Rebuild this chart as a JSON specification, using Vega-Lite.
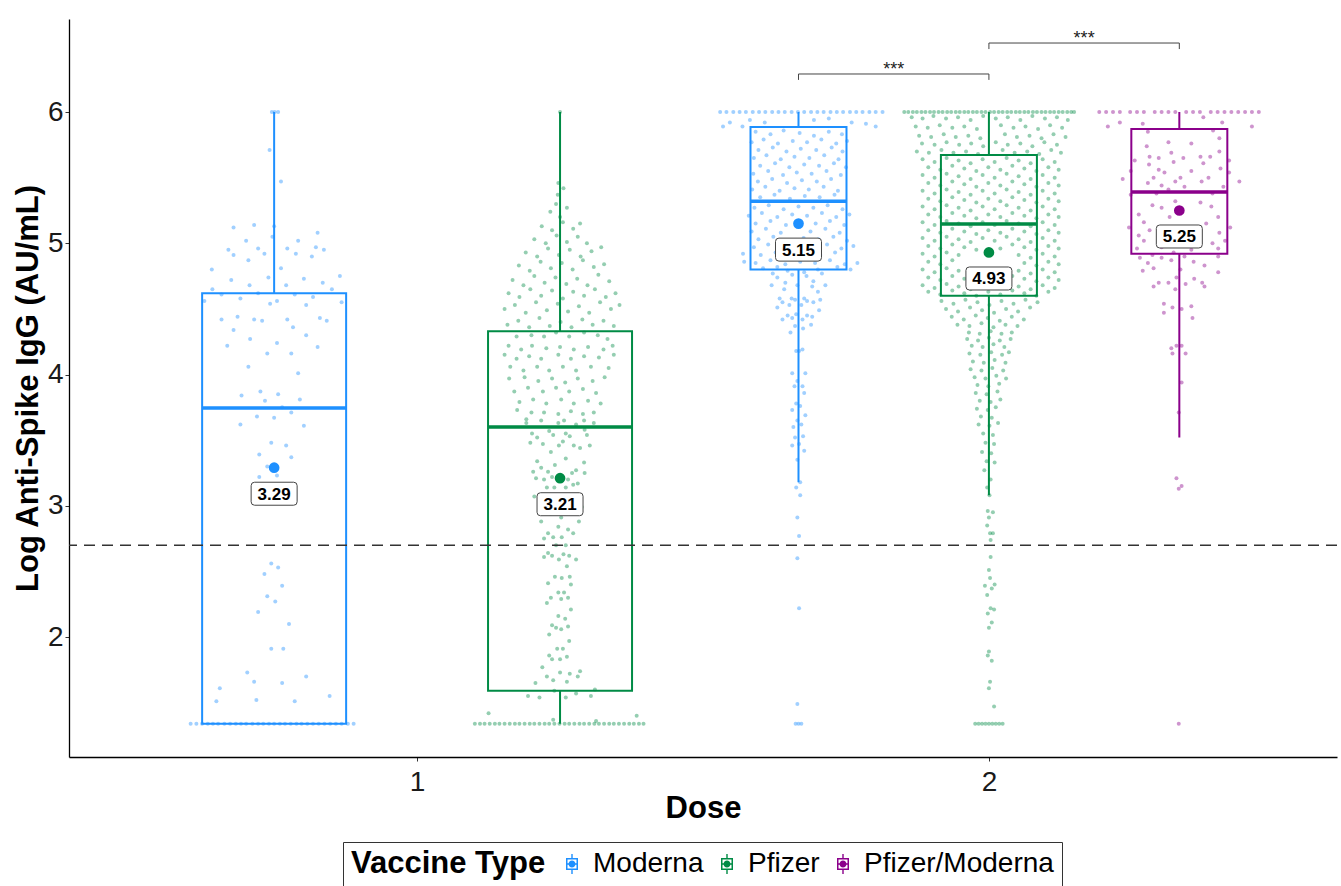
{
  "$schema": "https://vega.github.io/schema/vega-lite/v6.json",
  "width": 1268,
  "height": 738,
  "autosize": {"type": "none"},
  "padding": {"left": 69, "top": 19, "right": 4, "bottom": 129},
  "background": "white",
  "config": {
    "view": {"stroke": null},
    "font": "Liberation Sans",
    "axis": {"grid": false, "domainColor": "#000", "domainWidth": 1.3, "tickColor": "#333", "tickSize": 4, "tickWidth": 1, "labelFontSize": 28, "labelColor": "#1a1a1a", "labelFont": "Liberation Sans", "titleFont": "Liberation Sans", "titleFontSize": 31, "titleFontWeight": "bold", "titleColor": "#000"}
  },
  "datasets": {
    "box": [
      {"vaccine": "Moderna", "dose": 1, "x": 0.75, "lo": 1.34, "q1": 1.34, "med": 3.745, "q3": 4.62, "hi": 6.0, "mean": 3.29},
      {"vaccine": "Pfizer", "dose": 1, "x": 1.25, "lo": 1.34, "q1": 1.59, "med": 3.6, "q3": 4.33, "hi": 6.0, "mean": 3.21},
      {"vaccine": "Moderna", "dose": 2, "x": 1.667, "lo": 3.18, "q1": 4.8, "med": 5.32, "q3": 5.886, "hi": 6.0, "mean": 5.15},
      {"vaccine": "Pfizer", "dose": 2, "x": 2.0, "lo": 3.08, "q1": 4.6, "med": 5.147, "q3": 5.672, "hi": 6.0, "mean": 4.93},
      {"vaccine": "Pfizer/Moderna", "dose": 2, "x": 2.333, "lo": 3.52, "q1": 4.92, "med": 5.39, "q3": 5.87, "hi": 6.0, "mean": 5.25}
    ],
    "br": [
      {"a": 1.667, "b": 2.0, "top": 6.29, "tip": 6.245, "mid": 1.8335, "lab": "***"},
      {"a": 2.0, "b": 2.333, "top": 6.526, "tip": 6.48, "mid": 2.1665, "lab": "***"}
    ]
  },
  "layer": [
    {
      "data": {"name": "box"},
      "mark": {"type": "rule", "strokeWidth": 2},
      "encoding": {
        "x": {"field": "x", "type": "quantitative", "scale": {"domain": [0.4, 2.6], "nice": false, "zero": false}, "axis": {"title": "Dose", "values": [1, 2], "format": "d", "labelPadding": 7, "titleY": 51, "titleBaseline": "middle"}},
        "y": {"field": "lo", "type": "quantitative", "scale": {"domain": [1.086, 6.709], "nice": false, "zero": false}, "axis": {"title": "Log Anti-Spike IgG (AU/mL)", "values": [2, 3, 4, 5, 6], "format": "d", "labelPadding": 2, "titleX": -41, "titleBaseline": "middle"}},
        "y2": {"field": "hi"},
        "color": {
          "field": "vaccine", "type": "nominal",
          "scale": {"domain": ["Moderna", "Pfizer", "Pfizer/Moderna"], "range": ["#1E90FF", "#008B45", "#8B008B"]},
          "legend": {
            "title": "Vaccine Type", "orient": "none", "legendX": 274, "legendY": 823, "direction": "horizontal",
            "titleOrient": "left", "titleFontSize": 31, "titleFontWeight": "bold", "titleColor": "#000", "titlePadding": 12, "titleLimit": 500,
            "labelFontSize": 28, "labelColor": "#000", "labelOffset": 7, "columnPadding": 9, "labelLimit": 400,
            "symbolSize": 400, "symbolStrokeWidth": 0, "symbolOpacity": 1,
            "symbolType": "M-0.6,-0.6H0.6V0.6H-0.6Z M-0.45,-0.45V0.45H0.45V-0.45Z M-0.07,-1H0.07V-0.6H-0.07Z M-0.07,0.6H0.07V1H-0.07Z M-0.45,-0.07H0.45V0.07H-0.45Z M-0.35,0A0.35,0.35 0 1,1 0.35,0A0.35,0.35 0 1,1 -0.35,0Z",
            "padding": 8, "strokeColor": "#333",
            "encode": {"symbols": {"update": {"opacity": {"value": 1}, "fillOpacity": {"value": 1}}}}
          }
        }
      }
    },
    {
      "data": {"name": "box"},
      "mark": {"type": "bar", "fill": "white", "strokeWidth": 2},
      "encoding": {
        "x": {"field": "x", "type": "quantitative"},
        "y": {"field": "q1", "type": "quantitative"},
        "y2": {"field": "q3"},
        "stroke": {"field": "vaccine", "type": "nominal", "scale": {"domain": ["Moderna", "Pfizer", "Pfizer/Moderna"], "range": ["#1E90FF", "#008B45", "#8B008B"]}, "legend": null},
        "size": {"field": "dose", "type": "quantitative", "scale": {"domain": [1, 2], "range": [144, 96], "zero": false}, "legend": null}
      }
    },
    {
      "data": {"name": "box"},
      "mark": {"type": "bar", "fill": "transparent", "strokeWidth": 3.5},
      "encoding": {
        "x": {"field": "x", "type": "quantitative"},
        "y": {"field": "med", "type": "quantitative"},
        "y2": {"field": "med"},
        "stroke": {"field": "vaccine", "type": "nominal", "legend": null},
        "size": {"field": "dose", "type": "quantitative", "legend": null}
      }
    },
    {
      "data": {
        "values": "v,x,y\nModerna,0.604,1.34\nModerna,0.614,1.34\nModerna,0.624,1.34\nModerna,0.634,1.34\nModerna,0.643,1.34\nModerna,0.652,1.34\nModerna,0.663,1.34\nModerna,0.673,1.34\nModerna,0.683,1.34\nModerna,0.692,1.34\nModerna,0.701,1.34\nModerna,0.712,1.34\nModerna,0.722,1.34\nModerna,0.731,1.34\nModerna,0.741,1.34\nModerna,0.75,1.34\nModerna,0.76,1.34\nModerna,0.769,1.34\nModerna,0.779,1.34\nModerna,0.789,1.34\nModerna,0.798,1.34\nModerna,0.808,1.34\nModerna,0.818,1.34\nModerna,0.828,1.34\nModerna,0.838,1.34\nModerna,0.848,1.34\nModerna,0.858,1.34\nModerna,0.868,1.34\nModerna,0.879,1.34\nModerna,0.889,1.34\nModerna,0.746,6.0\nModerna,0.751,6.0\nModerna,0.757,6.0\nModerna,0.742,5.71\nModerna,0.762,5.47\nModerna,0.679,5.12\nModerna,0.715,5.14\nModerna,0.750,5.13\nModerna,0.826,5.08\nModerna,0.701,5.02\nModerna,0.747,5.05\nModerna,0.792,5.02\nModerna,0.670,4.95\nModerna,0.679,4.91\nModerna,0.722,4.96\nModerna,0.733,4.92\nModerna,0.773,4.96\nModerna,0.788,4.92\nModerna,0.823,4.97\nModerna,0.837,4.95\nModerna,0.816,4.90\nModerna,0.705,4.87\nModerna,0.762,4.81\nModerna,0.641,4.80\nModerna,0.865,4.75\nModerna,0.675,4.72\nModerna,0.740,4.74\nModerna,0.802,4.73\nModerna,0.835,4.70\nModerna,0.707,4.68\nModerna,0.771,4.68\nModerna,0.642,4.65\nModerna,0.851,4.65\nModerna,0.658,4.61\nModerna,0.722,4.62\nModerna,0.786,4.61\nModerna,0.818,4.59\nModerna,0.628,4.56\nModerna,0.691,4.58\nModerna,0.743,4.54\nModerna,0.755,4.56\nModerna,0.806,4.53\nModerna,0.868,4.55\nModerna,0.658,4.42\nModerna,0.686,4.44\nModerna,0.715,4.42\nModerna,0.729,4.41\nModerna,0.773,4.42\nModerna,0.830,4.43\nModerna,0.842,4.41\nModerna,0.679,4.34\nModerna,0.783,4.36\nModerna,0.806,4.30\nModerna,0.708,4.27\nModerna,0.755,4.24\nModerna,0.668,4.22\nModerna,0.826,4.21\nModerna,0.738,4.16\nModerna,0.780,4.16\nModerna,0.705,4.06\nModerna,0.792,4.01\nModerna,0.693,3.84\nModerna,0.726,3.87\nModerna,0.757,3.85\nModerna,0.734,3.80\nModerna,0.795,3.81\nModerna,0.764,3.75\nModerna,0.720,3.68\nModerna,0.750,3.67\nModerna,0.780,3.71\nModerna,0.691,3.62\nModerna,0.802,3.61\nModerna,0.745,3.48\nModerna,0.771,3.46\nModerna,0.724,3.39\nModerna,0.780,3.37\nModerna,0.738,3.30\nModerna,0.724,3.22\nModerna,0.755,3.23\nModerna,0.745,2.56\nModerna,0.757,2.53\nModerna,0.733,2.48\nModerna,0.764,2.39\nModerna,0.738,2.31\nModerna,0.752,2.27\nModerna,0.722,2.19\nModerna,0.776,2.10\nModerna,0.745,1.91\nModerna,0.766,1.91\nModerna,0.703,1.73\nModerna,0.715,1.66\nModerna,0.764,1.65\nModerna,0.806,1.70\nModerna,0.655,1.61\nModerna,0.649,1.51\nModerna,0.719,1.52\nModerna,0.786,1.51\nModerna,0.847,1.55\nPfizer,1.101,1.34\nPfizer,1.11,1.34\nPfizer,1.118,1.34\nPfizer,1.127,1.34\nPfizer,1.136,1.34\nPfizer,1.144,1.34\nPfizer,1.153,1.34\nPfizer,1.162,1.34\nPfizer,1.171,1.34\nPfizer,1.179,1.34\nPfizer,1.188,1.34\nPfizer,1.197,1.34\nPfizer,1.205,1.34\nPfizer,1.214,1.34\nPfizer,1.223,1.34\nPfizer,1.231,1.34\nPfizer,1.24,1.34\nPfizer,1.249,1.34\nPfizer,1.258,1.34\nPfizer,1.266,1.34\nPfizer,1.275,1.34\nPfizer,1.284,1.34\nPfizer,1.292,1.34\nPfizer,1.301,1.34\nPfizer,1.31,1.34\nPfizer,1.318,1.34\nPfizer,1.327,1.34\nPfizer,1.336,1.34\nPfizer,1.344,1.34\nPfizer,1.353,1.34\nPfizer,1.362,1.34\nPfizer,1.371,1.34\nPfizer,1.379,1.34\nPfizer,1.388,1.34\nPfizer,1.396,1.34\nPfizer,1.125,1.42\nPfizer,1.384,1.40\nPfizer,1.238,1.37\nPfizer,1.313,1.36\nPfizer,1.194,1.55\nPfizer,1.214,1.54\nPfizer,1.26,1.54\nPfizer,1.278,1.57\nPfizer,1.304,1.55\nPfizer,1.311,1.60\nPfizer,1.24,1.59\nPfizer,1.219,1.77\nPfizer,1.227,1.70\nPfizer,1.238,1.67\nPfizer,1.25,1.73\nPfizer,1.262,1.66\nPfizer,1.267,1.72\nPfizer,1.281,1.70\nPfizer,1.285,1.74\nPfizer,1.207,1.65\nPfizer,1.245,1.91\nPfizer,1.255,1.91\nPfizer,1.262,1.85\nPfizer,1.25,1.83\nPfizer,1.231,1.86\nPfizer,1.236,1.83\nPfizer,1.231,2.02\nPfizer,1.266,1.97\nPfizer,1.236,2.09\nPfizer,1.243,2.07\nPfizer,1.252,2.06\nPfizer,1.264,2.08\nPfizer,1.247,2.16\nPfizer,1.259,2.14\nPfizer,1.269,2.21\nPfizer,1.227,2.26\nPfizer,1.234,2.30\nPfizer,1.247,2.34\nPfizer,1.252,2.29\nPfizer,1.257,2.34\nPfizer,1.264,2.30\nPfizer,1.229,2.41\nPfizer,1.241,2.46\nPfizer,1.253,2.45\nPfizer,1.267,2.46\nPfizer,1.269,2.40\nPfizer,1.262,2.54\nPfizer,1.222,2.61\nPfizer,1.229,2.64\nPfizer,1.236,2.62\nPfizer,1.248,2.59\nPfizer,1.256,2.63\nPfizer,1.266,2.62\nPfizer,1.278,2.59\nPfizer,1.217,2.88\nPfizer,1.229,2.79\nPfizer,1.222,2.75\nPfizer,1.238,2.76\nPfizer,1.247,2.84\nPfizer,1.253,2.76\nPfizer,1.264,2.82\nPfizer,1.273,2.79\nPfizer,1.283,2.88\nPfizer,1.243,2.70\nPfizer,1.26,2.70\nPfizer,1.205,3.07\nPfizer,1.217,3.00\nPfizer,1.283,3.07\nPfizer,1.288,2.99\nPfizer,1.233,2.94\nPfizer,1.252,2.91\nPfizer,1.227,3.14\nPfizer,1.24,3.14\nPfizer,1.26,3.14\nPfizer,1.273,3.16\nPfizer,1.21,3.34\nPfizer,1.241,3.31\nPfizer,1.26,3.36\nPfizer,1.292,3.33\nPfizer,1.203,3.26\nPfizer,1.217,3.29\nPfizer,1.229,3.26\nPfizer,1.271,3.25\nPfizer,1.278,3.27\nPfizer,1.293,3.25\nPfizer,1.208,3.21\nPfizer,1.222,3.20\nPfizer,1.236,3.22\nPfizer,1.264,3.20\nPfizer,1.281,3.17\nPfizer,1.201,3.55\nPfizer,1.21,3.52\nPfizer,1.231,3.57\nPfizer,1.238,3.54\nPfizer,1.26,3.55\nPfizer,1.267,3.53\nPfizer,1.293,3.58\nPfizer,1.297,3.54\nPfizer,1.198,3.48\nPfizer,1.22,3.47\nPfizer,1.234,3.41\nPfizer,1.248,3.46\nPfizer,1.255,3.49\nPfizer,1.274,3.46\nPfizer,1.285,3.44\nPfizer,1.302,3.46\nPfizer,1.191,3.63\nPfizer,1.247,3.63\nPfizer,1.278,3.62\nPfizer,1.309,3.63\nPfizer,1.174,4.29\nPfizer,1.2,4.30\nPfizer,1.222,4.29\nPfizer,1.243,4.32\nPfizer,1.266,4.29\nPfizer,1.292,4.32\nPfizer,1.316,4.30\nPfizer,1.333,4.27\nPfizer,1.16,4.22\nPfizer,1.182,4.19\nPfizer,1.201,4.22\nPfizer,1.226,4.20\nPfizer,1.25,4.21\nPfizer,1.274,4.19\nPfizer,1.299,4.21\nPfizer,1.326,4.19\nPfizer,1.342,4.22\nPfizer,1.153,4.15\nPfizer,1.174,4.12\nPfizer,1.196,4.14\nPfizer,1.217,4.12\nPfizer,1.247,4.15\nPfizer,1.269,4.12\nPfizer,1.292,4.14\nPfizer,1.318,4.13\nPfizer,1.344,4.15\nPfizer,1.163,4.06\nPfizer,1.186,4.03\nPfizer,1.21,4.06\nPfizer,1.231,4.03\nPfizer,1.255,4.06\nPfizer,1.278,4.03\nPfizer,1.304,4.06\nPfizer,1.335,4.05\nPfizer,1.161,3.97\nPfizer,1.188,3.98\nPfizer,1.212,3.95\nPfizer,1.236,3.97\nPfizer,1.259,3.94\nPfizer,1.281,3.97\nPfizer,1.307,3.95\nPfizer,1.328,3.98\nPfizer,1.17,3.87\nPfizer,1.194,3.90\nPfizer,1.22,3.87\nPfizer,1.243,3.90\nPfizer,1.266,3.87\nPfizer,1.29,3.89\nPfizer,1.313,3.86\nPfizer,1.179,3.79\nPfizer,1.203,3.81\nPfizer,1.226,3.78\nPfizer,1.252,3.81\nPfizer,1.274,3.78\nPfizer,1.299,3.80\nPfizer,1.321,3.78\nPfizer,1.175,3.73\nPfizer,1.2,3.71\nPfizer,1.222,3.71\nPfizer,1.247,3.70\nPfizer,1.269,3.72\nPfizer,1.29,3.70\nPfizer,1.309,3.71\nPfizer,1.191,3.66\nPfizer,1.217,3.65\nPfizer,1.257,3.65\nPfizer,1.292,3.65\nPfizer,1.158,4.38\nPfizer,1.177,4.41\nPfizer,1.196,4.36\nPfizer,1.214,4.43\nPfizer,1.232,4.37\nPfizer,1.251,4.40\nPfizer,1.27,4.36\nPfizer,1.289,4.42\nPfizer,1.307,4.38\nPfizer,1.326,4.41\nPfizer,1.344,4.37\nPfizer,1.153,4.50\nPfizer,1.171,4.53\nPfizer,1.19,4.47\nPfizer,1.208,4.55\nPfizer,1.227,4.49\nPfizer,1.246,4.54\nPfizer,1.264,4.48\nPfizer,1.283,4.52\nPfizer,1.301,4.47\nPfizer,1.32,4.55\nPfizer,1.339,4.50\nPfizer,1.354,4.53\nPfizer,1.16,4.62\nPfizer,1.179,4.59\nPfizer,1.198,4.65\nPfizer,1.217,4.60\nPfizer,1.236,4.64\nPfizer,1.255,4.58\nPfizer,1.273,4.63\nPfizer,1.292,4.60\nPfizer,1.311,4.65\nPfizer,1.33,4.59\nPfizer,1.347,4.62\nPfizer,1.167,4.72\nPfizer,1.186,4.68\nPfizer,1.205,4.75\nPfizer,1.223,4.70\nPfizer,1.242,4.74\nPfizer,1.261,4.69\nPfizer,1.28,4.73\nPfizer,1.298,4.68\nPfizer,1.317,4.76\nPfizer,1.336,4.71\nPfizer,1.178,4.83\nPfizer,1.197,4.79\nPfizer,1.216,4.86\nPfizer,1.234,4.81\nPfizer,1.253,4.85\nPfizer,1.272,4.80\nPfizer,1.29,4.87\nPfizer,1.309,4.82\nPfizer,1.327,4.84\nPfizer,1.19,4.93\nPfizer,1.21,4.90\nPfizer,1.229,4.96\nPfizer,1.248,4.91\nPfizer,1.267,4.95\nPfizer,1.286,4.90\nPfizer,1.305,4.94\nPfizer,1.322,4.97\nPfizer,1.205,5.03\nPfizer,1.225,5.00\nPfizer,1.244,5.06\nPfizer,1.262,5.01\nPfizer,1.281,5.05\nPfizer,1.297,5.00\nPfizer,1.218,5.13\nPfizer,1.236,5.10\nPfizer,1.255,5.16\nPfizer,1.273,5.11\nPfizer,1.285,5.15\nPfizer,1.233,5.24\nPfizer,1.25,5.20\nPfizer,1.262,5.27\nPfizer,1.243,5.30\nPfizer,1.246,5.37\nPfizer,1.256,5.42\nPfizer,1.247,5.46\nPfizer,1.25,6.0\nModerna,1.530,6.0\nModerna,1.541,6.0\nModerna,1.553,6.0\nModerna,1.564,6.0\nModerna,1.575,6.0\nModerna,1.587,6.0\nModerna,1.598,6.0\nModerna,1.609,6.0\nModerna,1.621,6.0\nModerna,1.632,6.0\nModerna,1.643,6.0\nModerna,1.655,6.0\nModerna,1.666,6.0\nModerna,1.677,6.0\nModerna,1.689,6.0\nModerna,1.700,6.0\nModerna,1.711,6.0\nModerna,1.723,6.0\nModerna,1.734,6.0\nModerna,1.745,6.0\nModerna,1.757,6.0\nModerna,1.768,6.0\nModerna,1.779,6.0\nModerna,1.791,6.0\nModerna,1.802,6.0\nModerna,1.814,6.0\nModerna,1.547,5.92\nModerna,1.582,5.94\nModerna,1.608,5.92\nModerna,1.694,5.94\nModerna,1.72,5.95\nModerna,1.76,5.92\nModerna,1.785,5.91\nModerna,1.802,5.89\nModerna,1.535,5.89\nModerna,1.569,5.89\nModerna,1.592,5.85\nModerna,1.618,5.83\nModerna,1.641,5.86\nModerna,1.669,5.84\nModerna,1.694,5.82\nModerna,1.72,5.85\nModerna,1.743,5.83\nModerna,1.585,5.77\nModerna,1.606,5.79\nModerna,1.631,5.76\nModerna,1.657,5.78\nModerna,1.682,5.77\nModerna,1.707,5.79\nModerna,1.733,5.76\nModerna,1.752,5.78\nModerna,1.597,5.71\nModerna,1.622,5.73\nModerna,1.646,5.70\nModerna,1.671,5.72\nModerna,1.698,5.71\nModerna,1.725,5.73\nModerna,1.744,5.70\nModerna,1.589,5.65\nModerna,1.611,5.67\nModerna,1.636,5.64\nModerna,1.66,5.66\nModerna,1.686,5.65\nModerna,1.712,5.67\nModerna,1.737,5.64\nModerna,1.6,5.59\nModerna,1.626,5.61\nModerna,1.651,5.58\nModerna,1.677,5.60\nModerna,1.703,5.59\nModerna,1.729,5.61\nModerna,1.75,5.58\nModerna,1.588,5.53\nModerna,1.614,5.55\nModerna,1.64,5.52\nModerna,1.664,5.54\nModerna,1.69,5.53\nModerna,1.716,5.55\nModerna,1.741,5.52\nModerna,1.596,5.47\nModerna,1.621,5.49\nModerna,1.647,5.46\nModerna,1.673,5.48\nModerna,1.699,5.47\nModerna,1.724,5.49\nModerna,1.586,5.41\nModerna,1.609,5.43\nModerna,1.634,5.40\nModerna,1.66,5.42\nModerna,1.685,5.41\nModerna,1.711,5.43\nModerna,1.736,5.40\nModerna,1.6,5.35\nModerna,1.625,5.37\nModerna,1.652,5.34\nModerna,1.678,5.36\nModerna,1.704,5.35\nModerna,1.73,5.37\nModerna,1.59,5.27\nModerna,1.615,5.29\nModerna,1.641,5.26\nModerna,1.667,5.28\nModerna,1.693,5.27\nModerna,1.718,5.29\nModerna,1.744,5.26\nModerna,1.58,5.21\nModerna,1.603,5.23\nModerna,1.63,5.20\nModerna,1.656,5.22\nModerna,1.682,5.21\nModerna,1.708,5.23\nModerna,1.733,5.20\nModerna,1.756,5.22\nModerna,1.592,5.15\nModerna,1.618,5.17\nModerna,1.645,5.14\nModerna,1.697,5.15\nModerna,1.722,5.17\nModerna,1.747,5.14\nModerna,1.585,5.09\nModerna,1.61,5.11\nModerna,1.636,5.08\nModerna,1.688,5.09\nModerna,1.714,5.11\nModerna,1.739,5.08\nModerna,1.597,5.03\nModerna,1.623,5.05\nModerna,1.65,5.02\nModerna,1.676,5.04\nModerna,1.702,5.03\nModerna,1.728,5.05\nModerna,1.752,5.02\nModerna,1.589,4.97\nModerna,1.614,4.99\nModerna,1.64,4.96\nModerna,1.666,4.98\nModerna,1.692,4.97\nModerna,1.717,4.99\nModerna,1.742,4.96\nModerna,1.763,4.98\nModerna,1.601,4.91\nModerna,1.627,4.93\nModerna,1.705,4.91\nModerna,1.731,4.93\nModerna,1.57,4.92\nModerna,1.592,4.85\nModerna,1.618,4.87\nModerna,1.644,4.84\nModerna,1.67,4.86\nModerna,1.696,4.85\nModerna,1.722,4.87\nModerna,1.748,4.84\nModerna,1.572,4.86\nModerna,1.77,4.85\nModerna,1.605,4.81\nModerna,1.63,4.82\nModerna,1.735,4.82\nModerna,1.758,4.80\nModerna,1.622,4.77\nModerna,1.63,4.74\nModerna,1.648,4.79\nModerna,1.656,4.76\nModerna,1.677,4.78\nModerna,1.681,4.75\nModerna,1.701,4.80\nModerna,1.708,4.77\nModerna,1.62,4.68\nModerna,1.644,4.70\nModerna,1.642,4.65\nModerna,1.665,4.68\nModerna,1.693,4.71\nModerna,1.691,4.67\nModerna,1.701,4.63\nModerna,1.714,4.68\nModerna,1.634,4.58\nModerna,1.639,4.55\nModerna,1.655,4.58\nModerna,1.661,4.57\nModerna,1.651,4.53\nModerna,1.63,4.51\nModerna,1.672,4.53\nModerna,1.677,4.58\nModerna,1.682,4.56\nModerna,1.693,4.55\nModerna,1.705,4.57\nModerna,1.703,4.49\nModerna,1.639,4.42\nModerna,1.648,4.45\nModerna,1.656,4.43\nModerna,1.663,4.46\nModerna,1.674,4.42\nModerna,1.682,4.45\nModerna,1.691,4.44\nModerna,1.661,4.37\nModerna,1.675,4.35\nModerna,1.689,4.38\nModerna,1.653,4.32\nModerna,1.663,4.18\nModerna,1.668,4.18\nModerna,1.674,4.19\nModerna,1.656,4.01\nModerna,1.679,4.01\nModerna,1.665,3.95\nModerna,1.66,3.91\nModerna,1.674,3.91\nModerna,1.677,3.86\nModerna,1.663,3.78\nModerna,1.67,3.76\nModerna,1.656,3.73\nModerna,1.679,3.69\nModerna,1.665,3.65\nModerna,1.672,3.62\nModerna,1.658,3.60\nModerna,1.675,3.53\nModerna,1.661,3.52\nModerna,1.656,3.46\nModerna,1.668,3.47\nModerna,1.677,3.42\nModerna,1.665,3.35\nModerna,1.67,3.18\nModerna,1.663,3.14\nModerna,1.67,3.08\nModerna,1.665,2.91\nModerna,1.668,2.77\nModerna,1.665,2.60\nModerna,1.668,2.22\nModerna,1.665,1.49\nModerna,1.662,1.34\nModerna,1.667,1.34\nModerna,1.672,1.34\nPfizer,1.852,6.0\nPfizer,1.859,6.0\nPfizer,1.867,6.0\nPfizer,1.874,6.0\nPfizer,1.882,6.0\nPfizer,1.889,6.0\nPfizer,1.897,6.0\nPfizer,1.904,6.0\nPfizer,1.912,6.0\nPfizer,1.919,6.0\nPfizer,1.927,6.0\nPfizer,1.934,6.0\nPfizer,1.942,6.0\nPfizer,1.949,6.0\nPfizer,1.957,6.0\nPfizer,1.964,6.0\nPfizer,1.972,6.0\nPfizer,1.979,6.0\nPfizer,1.987,6.0\nPfizer,1.994,6.0\nPfizer,2.002,6.0\nPfizer,2.009,6.0\nPfizer,2.017,6.0\nPfizer,2.024,6.0\nPfizer,2.032,6.0\nPfizer,2.039,6.0\nPfizer,2.047,6.0\nPfizer,2.054,6.0\nPfizer,2.062,6.0\nPfizer,2.069,6.0\nPfizer,2.077,6.0\nPfizer,2.084,6.0\nPfizer,2.092,6.0\nPfizer,2.099,6.0\nPfizer,2.107,6.0\nPfizer,2.114,6.0\nPfizer,2.122,6.0\nPfizer,2.129,6.0\nPfizer,2.137,6.0\nPfizer,2.144,6.0\nPfizer,2.149,6.0\nPfizer,1.865,5.96\nPfizer,1.884,5.95\nPfizer,1.903,5.97\nPfizer,1.925,5.95\nPfizer,1.946,5.96\nPfizer,1.968,5.94\nPfizer,1.99,5.97\nPfizer,2.012,5.95\nPfizer,2.033,5.96\nPfizer,2.055,5.94\nPfizer,2.076,5.97\nPfizer,2.098,5.95\nPfizer,2.119,5.96\nPfizer,2.138,5.94\nPfizer,1.872,5.89\nPfizer,1.893,5.88\nPfizer,1.914,5.90\nPfizer,1.936,5.88\nPfizer,1.957,5.89\nPfizer,1.979,5.87\nPfizer,2.021,5.90\nPfizer,2.043,5.88\nPfizer,2.064,5.89\nPfizer,2.086,5.87\nPfizer,2.107,5.90\nPfizer,2.128,5.88\nPfizer,1.878,5.82\nPfizer,1.899,5.81\nPfizer,1.921,5.83\nPfizer,1.942,5.81\nPfizer,1.964,5.82\nPfizer,1.985,5.80\nPfizer,2.028,5.83\nPfizer,2.049,5.81\nPfizer,2.071,5.82\nPfizer,2.092,5.80\nPfizer,2.113,5.83\nPfizer,2.134,5.81\nPfizer,1.883,5.76\nPfizer,1.905,5.75\nPfizer,1.926,5.77\nPfizer,1.948,5.75\nPfizer,1.969,5.76\nPfizer,1.99,5.74\nPfizer,2.012,5.77\nPfizer,2.033,5.75\nPfizer,2.055,5.76\nPfizer,2.076,5.74\nPfizer,2.097,5.77\nPfizer,2.119,5.75\nPfizer,1.874,5.70\nPfizer,1.895,5.69\nPfizer,1.917,5.71\nPfizer,1.938,5.69\nPfizer,1.96,5.70\nPfizer,1.981,5.68\nPfizer,2.024,5.71\nPfizer,2.045,5.69\nPfizer,2.067,5.70\nPfizer,2.088,5.68\nPfizer,2.109,5.71\nPfizer,2.126,5.69\nPfizer,1.884,5.64\nPfizer,1.905,5.62\nPfizer,1.926,5.65\nPfizer,1.947,5.63\nPfizer,1.968,5.61\nPfizer,1.989,5.64\nPfizer,2.01,5.62\nPfizer,2.031,5.65\nPfizer,2.052,5.63\nPfizer,2.073,5.61\nPfizer,2.094,5.64\nPfizer,2.115,5.62\nPfizer,1.894,5.58\nPfizer,1.915,5.56\nPfizer,1.936,5.59\nPfizer,1.957,5.57\nPfizer,1.978,5.55\nPfizer,1.999,5.58\nPfizer,2.02,5.56\nPfizer,2.041,5.59\nPfizer,2.062,5.57\nPfizer,2.083,5.55\nPfizer,2.104,5.58\nPfizer,2.122,5.56\nPfizer,1.884,5.52\nPfizer,1.905,5.50\nPfizer,1.926,5.53\nPfizer,1.947,5.51\nPfizer,1.968,5.49\nPfizer,1.989,5.52\nPfizer,2.01,5.50\nPfizer,2.031,5.53\nPfizer,2.052,5.51\nPfizer,2.073,5.49\nPfizer,2.094,5.52\nPfizer,2.115,5.50\nPfizer,1.894,5.46\nPfizer,1.915,5.44\nPfizer,1.936,5.47\nPfizer,1.957,5.45\nPfizer,1.978,5.43\nPfizer,1.999,5.46\nPfizer,2.02,5.44\nPfizer,2.041,5.47\nPfizer,2.062,5.45\nPfizer,2.083,5.43\nPfizer,2.104,5.46\nPfizer,2.122,5.44\nPfizer,1.884,5.40\nPfizer,1.905,5.38\nPfizer,1.926,5.41\nPfizer,1.947,5.39\nPfizer,1.968,5.37\nPfizer,1.989,5.40\nPfizer,2.01,5.38\nPfizer,2.031,5.41\nPfizer,2.052,5.39\nPfizer,2.073,5.37\nPfizer,2.094,5.40\nPfizer,2.115,5.38\nPfizer,1.894,5.34\nPfizer,1.915,5.32\nPfizer,1.936,5.35\nPfizer,1.957,5.33\nPfizer,1.978,5.31\nPfizer,1.999,5.34\nPfizer,2.02,5.32\nPfizer,2.041,5.35\nPfizer,2.062,5.33\nPfizer,2.083,5.31\nPfizer,2.104,5.34\nPfizer,2.122,5.32\nPfizer,1.884,5.28\nPfizer,1.905,5.26\nPfizer,1.926,5.29\nPfizer,1.947,5.27\nPfizer,1.968,5.25\nPfizer,1.989,5.28\nPfizer,2.01,5.26\nPfizer,2.031,5.29\nPfizer,2.052,5.27\nPfizer,2.073,5.25\nPfizer,2.094,5.28\nPfizer,2.115,5.26\nPfizer,1.894,5.22\nPfizer,1.915,5.20\nPfizer,1.936,5.23\nPfizer,1.957,5.21\nPfizer,1.978,5.19\nPfizer,1.999,5.22\nPfizer,2.02,5.20\nPfizer,2.041,5.23\nPfizer,2.062,5.21\nPfizer,2.083,5.19\nPfizer,2.104,5.22\nPfizer,2.122,5.20\nPfizer,1.884,5.16\nPfizer,1.905,5.14\nPfizer,1.926,5.17\nPfizer,1.947,5.15\nPfizer,1.968,5.13\nPfizer,1.989,5.16\nPfizer,2.01,5.14\nPfizer,2.031,5.17\nPfizer,2.052,5.15\nPfizer,2.073,5.13\nPfizer,2.094,5.16\nPfizer,2.115,5.14\nPfizer,1.894,5.10\nPfizer,1.915,5.08\nPfizer,1.936,5.11\nPfizer,1.957,5.09\nPfizer,1.978,5.07\nPfizer,1.999,5.10\nPfizer,2.02,5.08\nPfizer,2.041,5.11\nPfizer,2.062,5.09\nPfizer,2.083,5.07\nPfizer,2.104,5.10\nPfizer,2.122,5.08\nPfizer,1.884,5.04\nPfizer,1.905,5.02\nPfizer,1.926,5.05\nPfizer,1.947,5.03\nPfizer,1.968,5.01\nPfizer,1.989,5.04\nPfizer,2.01,5.02\nPfizer,2.031,5.05\nPfizer,2.052,5.03\nPfizer,2.073,5.01\nPfizer,2.094,5.04\nPfizer,2.115,5.02\nPfizer,1.894,4.98\nPfizer,1.915,4.96\nPfizer,1.936,4.99\nPfizer,1.957,4.97\nPfizer,1.978,4.95\nPfizer,2.02,4.96\nPfizer,2.041,4.99\nPfizer,2.062,4.97\nPfizer,2.083,4.95\nPfizer,2.104,4.98\nPfizer,2.122,4.96\nPfizer,1.884,4.92\nPfizer,1.905,4.90\nPfizer,1.926,4.93\nPfizer,1.947,4.91\nPfizer,2.052,4.91\nPfizer,2.073,4.89\nPfizer,2.094,4.92\nPfizer,2.115,4.90\nPfizer,1.894,4.86\nPfizer,1.915,4.84\nPfizer,1.936,4.87\nPfizer,2.062,4.85\nPfizer,2.083,4.83\nPfizer,2.104,4.86\nPfizer,2.122,4.84\nPfizer,1.884,4.80\nPfizer,1.905,4.78\nPfizer,1.926,4.81\nPfizer,1.947,4.79\nPfizer,2.052,4.79\nPfizer,2.073,4.77\nPfizer,2.094,4.80\nPfizer,2.115,4.78\nPfizer,1.894,4.74\nPfizer,1.915,4.72\nPfizer,1.936,4.75\nPfizer,1.957,4.73\nPfizer,2.041,4.75\nPfizer,2.062,4.73\nPfizer,2.083,4.71\nPfizer,2.104,4.74\nPfizer,2.122,4.72\nPfizer,1.884,4.68\nPfizer,1.905,4.66\nPfizer,1.926,4.69\nPfizer,1.947,4.67\nPfizer,1.968,4.65\nPfizer,2.031,4.69\nPfizer,2.052,4.67\nPfizer,2.073,4.65\nPfizer,2.094,4.68\nPfizer,2.115,4.66\nPfizer,1.894,4.63\nPfizer,1.915,4.61\nPfizer,1.936,4.64\nPfizer,1.957,4.62\nPfizer,1.978,4.60\nPfizer,1.999,4.63\nPfizer,2.02,4.61\nPfizer,2.041,4.64\nPfizer,2.062,4.62\nPfizer,2.083,4.60\nPfizer,2.104,4.63\nPfizer,1.917,4.56\nPfizer,1.938,4.54\nPfizer,1.959,4.57\nPfizer,1.98,4.55\nPfizer,2.001,4.53\nPfizer,2.022,4.56\nPfizer,2.043,4.54\nPfizer,2.064,4.57\nPfizer,2.085,4.55\nPfizer,1.925,4.50\nPfizer,1.946,4.48\nPfizer,1.967,4.51\nPfizer,1.988,4.49\nPfizer,2.009,4.47\nPfizer,2.03,4.50\nPfizer,2.051,4.48\nPfizer,2.072,4.51\nPfizer,1.935,4.44\nPfizer,1.956,4.42\nPfizer,1.977,4.45\nPfizer,1.998,4.43\nPfizer,2.019,4.41\nPfizer,2.04,4.44\nPfizer,2.061,4.42\nPfizer,1.945,4.38\nPfizer,1.966,4.37\nPfizer,1.987,4.39\nPfizer,2.008,4.36\nPfizer,2.029,4.38\nPfizer,2.05,4.37\nPfizer,1.965,4.32\nPfizer,1.984,4.31\nPfizer,2.003,4.33\nPfizer,2.022,4.31\nPfizer,2.04,4.32\nPfizer,1.962,4.27\nPfizer,1.981,4.26\nPfizer,2.0,4.28\nPfizer,2.019,4.26\nPfizer,2.038,4.27\nPfizer,1.97,4.22\nPfizer,1.989,4.21\nPfizer,2.008,4.23\nPfizer,2.027,4.21\nPfizer,1.966,4.16\nPfizer,1.985,4.15\nPfizer,2.004,4.17\nPfizer,2.023,4.15\nPfizer,2.035,4.17\nPfizer,1.972,4.10\nPfizer,1.991,4.09\nPfizer,2.01,4.11\nPfizer,2.029,4.09\nPfizer,1.968,4.04\nPfizer,1.987,4.03\nPfizer,2.006,4.05\nPfizer,2.025,4.03\nPfizer,1.975,3.98\nPfizer,1.994,3.97\nPfizer,2.013,3.99\nPfizer,2.03,3.97\nPfizer,1.98,3.92\nPfizer,1.999,3.91\nPfizer,2.018,3.93\nPfizer,1.977,3.86\nPfizer,1.996,3.85\nPfizer,2.015,3.87\nPfizer,1.984,3.80\nPfizer,2.003,3.79\nPfizer,2.02,3.81\nPfizer,1.979,3.74\nPfizer,1.998,3.73\nPfizer,2.012,3.75\nPfizer,1.986,3.68\nPfizer,2.005,3.67\nPfizer,1.982,3.62\nPfizer,2.001,3.61\nPfizer,2.016,3.63\nPfizer,1.99,3.55\nPfizer,2.007,3.54\nPfizer,1.994,3.48\nPfizer,2.009,3.47\nPfizer,1.988,3.41\nPfizer,2.004,3.40\nPfizer,1.996,3.34\nPfizer,2.01,3.33\nPfizer,1.992,3.27\nPfizer,2.003,3.20\nPfizer,1.997,3.14\nPfizer,2.001,3.08\nPfizer,1.998,2.96\nPfizer,2.007,2.95\nPfizer,2.0,2.91\nPfizer,1.997,2.85\nPfizer,2.002,2.79\nPfizer,2.007,2.79\nPfizer,2.003,2.74\nPfizer,2.003,2.61\nPfizer,2.0,2.51\nPfizer,2.002,2.45\nPfizer,1.993,2.39\nPfizer,2.005,2.37\nPfizer,2.01,2.40\nPfizer,1.997,2.32\nPfizer,2.003,2.22\nPfizer,1.998,2.18\nPfizer,2.009,2.21\nPfizer,2.005,2.11\nPfizer,2.0,2.07\nPfizer,2.0,1.89\nPfizer,1.998,1.86\nPfizer,2.005,1.82\nPfizer,2.002,1.66\nPfizer,2.0,1.61\nPfizer,2.009,1.47\nPfizer,1.976,1.34\nPfizer,1.982,1.34\nPfizer,1.988,1.34\nPfizer,1.994,1.34\nPfizer,2.0,1.34\nPfizer,2.006,1.34\nPfizer,2.012,1.34\nPfizer,2.018,1.34\nPfizer,2.024,1.34\nPfizer/Moderna,2.193,6.0\nPfizer/Moderna,2.205,6.0\nPfizer/Moderna,2.217,6.0\nPfizer/Moderna,2.229,6.0\nPfizer/Moderna,2.247,6.0\nPfizer/Moderna,2.259,6.0\nPfizer/Moderna,2.271,6.0\nPfizer/Moderna,2.29,6.0\nPfizer/Moderna,2.302,6.0\nPfizer/Moderna,2.314,6.0\nPfizer/Moderna,2.326,6.0\nPfizer/Moderna,2.345,6.0\nPfizer/Moderna,2.357,6.0\nPfizer/Moderna,2.369,6.0\nPfizer/Moderna,2.388,6.0\nPfizer/Moderna,2.4,6.0\nPfizer/Moderna,2.412,6.0\nPfizer/Moderna,2.424,6.0\nPfizer/Moderna,2.436,6.0\nPfizer/Moderna,2.448,6.0\nPfizer/Moderna,2.46,6.0\nPfizer/Moderna,2.472,6.0\nPfizer/Moderna,2.208,5.89\nPfizer/Moderna,2.229,5.92\nPfizer/Moderna,2.269,5.91\nPfizer/Moderna,2.375,5.96\nPfizer/Moderna,2.408,5.92\nPfizer/Moderna,2.46,5.89\nPfizer/Moderna,2.278,5.85\nPfizer/Moderna,2.392,5.86\nPfizer/Moderna,2.314,5.77\nPfizer/Moderna,2.354,5.76\nPfizer/Moderna,2.403,5.80\nPfizer/Moderna,2.276,5.74\nPfizer/Moderna,2.403,5.70\nPfizer/Moderna,2.255,5.63\nPfizer/Moderna,2.281,5.66\nPfizer/Moderna,2.297,5.65\nPfizer/Moderna,2.319,5.69\nPfizer/Moderna,2.323,5.62\nPfizer/Moderna,2.34,5.65\nPfizer/Moderna,2.37,5.66\nPfizer/Moderna,2.375,5.61\nPfizer/Moderna,2.387,5.66\nPfizer/Moderna,2.42,5.63\nPfizer/Moderna,2.248,5.55\nPfizer/Moderna,2.28,5.60\nPfizer/Moderna,2.297,5.56\nPfizer/Moderna,2.307,5.54\nPfizer/Moderna,2.354,5.55\nPfizer/Moderna,2.405,5.57\nPfizer/Moderna,2.42,5.54\nPfizer/Moderna,2.234,5.49\nPfizer/Moderna,2.288,5.50\nPfizer/Moderna,2.278,5.46\nPfizer/Moderna,2.326,5.47\nPfizer/Moderna,2.335,5.50\nPfizer/Moderna,2.342,5.43\nPfizer/Moderna,2.372,5.47\nPfizer/Moderna,2.384,5.50\nPfizer/Moderna,2.438,5.47\nPfizer/Moderna,2.302,5.44\nPfizer/Moderna,2.314,5.41\nPfizer/Moderna,2.41,5.43\nPfizer/Moderna,2.248,5.37\nPfizer/Moderna,2.293,5.38\nPfizer/Moderna,2.326,5.32\nPfizer/Moderna,2.391,5.38\nPfizer/Moderna,2.286,5.29\nPfizer/Moderna,2.302,5.27\nPfizer/Moderna,2.37,5.31\nPfizer/Moderna,2.389,5.28\nPfizer/Moderna,2.262,5.22\nPfizer/Moderna,2.401,5.20\nPfizer/Moderna,2.316,5.20\nPfizer/Moderna,2.271,5.16\nPfizer/Moderna,2.38,5.15\nPfizer/Moderna,2.245,5.12\nPfizer/Moderna,2.422,5.12\nPfizer/Moderna,2.281,5.10\nPfizer/Moderna,2.403,5.08\nPfizer/Moderna,2.262,5.06\nPfizer/Moderna,2.271,5.02\nPfizer/Moderna,2.391,5.00\nPfizer/Moderna,2.413,5.02\nPfizer/Moderna,2.259,4.96\nPfizer/Moderna,2.401,4.96\nPfizer/Moderna,2.302,4.97\nPfizer/Moderna,2.323,4.93\nPfizer/Moderna,2.354,4.95\nPfizer/Moderna,2.264,4.89\nPfizer/Moderna,2.286,4.91\nPfizer/Moderna,2.302,4.89\nPfizer/Moderna,2.342,4.90\nPfizer/Moderna,2.358,4.86\nPfizer/Moderna,2.377,4.83\nPfizer/Moderna,2.401,4.90\nPfizer/Moderna,2.278,4.85\nPfizer/Moderna,2.319,4.87\nPfizer/Moderna,2.269,4.79\nPfizer/Moderna,2.288,4.81\nPfizer/Moderna,2.335,4.80\nPfizer/Moderna,2.401,4.78\nPfizer/Moderna,2.297,4.70\nPfizer/Moderna,2.314,4.70\nPfizer/Moderna,2.328,4.74\nPfizer/Moderna,2.344,4.69\nPfizer/Moderna,2.359,4.73\nPfizer/Moderna,2.373,4.70\nPfizer/Moderna,2.288,4.67\nPfizer/Moderna,2.326,4.65\nPfizer/Moderna,2.377,4.67\nPfizer/Moderna,2.306,4.54\nPfizer/Moderna,2.321,4.51\nPfizer/Moderna,2.337,4.50\nPfizer/Moderna,2.354,4.52\nPfizer/Moderna,2.306,4.47\nPfizer/Moderna,2.356,4.43\nPfizer/Moderna,2.319,4.20\nPfizer/Moderna,2.328,4.22\nPfizer/Moderna,2.337,4.22\nPfizer/Moderna,2.321,4.16\nPfizer/Moderna,2.344,4.16\nPfizer/Moderna,2.337,3.94\nPfizer/Moderna,2.332,3.71\nPfizer/Moderna,2.328,3.21\nPfizer/Moderna,2.337,3.15\nPfizer/Moderna,2.332,3.13\nPfizer/Moderna,2.332,1.34",
        "format": {"type": "csv", "parse": {"x": "number", "y": "number"}}
      },
      "mark": {"type": "circle", "size": 16, "opacity": 0.42},
      "encoding": {
        "x": {"field": "x", "type": "quantitative"},
        "y": {"field": "y", "type": "quantitative"},
        "color": {"field": "v", "type": "nominal"}
      }
    },
    {
      "data": {"values": [{"t": 2.699}]},
      "mark": {"type": "rule", "strokeDash": [11, 7], "strokeWidth": 1.5, "color": "#333"},
      "encoding": {"y": {"field": "t", "type": "quantitative"}}
    },
    {
      "data": {"name": "box"},
      "mark": {"type": "circle", "size": 115, "opacity": 1},
      "encoding": {
        "x": {"field": "x", "type": "quantitative"},
        "y": {"field": "mean", "type": "quantitative"},
        "color": {"field": "vaccine", "type": "nominal"}
      }
    },
    {
      "data": {"name": "box"},
      "mark": {"type": "point", "shape": "M-0.85,-0.5H0.85Q1,-0.5 1,-0.35V0.35Q1,0.5 0.85,0.5H-0.85Q-1,0.5 -1,0.35V-0.35Q-1,-0.5 -0.85,-0.5Z", "size": 2116, "filled": true, "fill": "white", "stroke": "#444", "strokeWidth": 1, "opacity": 1, "yOffset": 26},
      "encoding": {
        "x": {"field": "x", "type": "quantitative"},
        "y": {"field": "mean", "type": "quantitative"}
      }
    },
    {
      "data": {"name": "box"},
      "mark": {"type": "text", "font": "Liberation Sans", "fontWeight": "bold", "fontSize": 17, "baseline": "middle", "align": "center", "color": "#000", "yOffset": 27},
      "encoding": {
        "x": {"field": "x", "type": "quantitative"},
        "y": {"field": "mean", "type": "quantitative"},
        "text": {"field": "mean", "type": "quantitative", "format": ".2f"}
      }
    },
    {
      "data": {"name": "br"},
      "mark": {"type": "rule", "color": "#444", "strokeWidth": 1},
      "encoding": {
        "x": {"field": "a", "type": "quantitative"},
        "x2": {"field": "b"},
        "y": {"field": "top", "type": "quantitative"}
      }
    },
    {
      "data": {"name": "br"},
      "mark": {"type": "rule", "color": "#444", "strokeWidth": 1},
      "encoding": {
        "x": {"field": "a", "type": "quantitative"},
        "y": {"field": "top", "type": "quantitative"},
        "y2": {"field": "tip"}
      }
    },
    {
      "data": {"name": "br"},
      "mark": {"type": "rule", "color": "#444", "strokeWidth": 1},
      "encoding": {
        "x": {"field": "b", "type": "quantitative"},
        "y": {"field": "top", "type": "quantitative"},
        "y2": {"field": "tip"}
      }
    },
    {
      "data": {"name": "br"},
      "mark": {"type": "text", "font": "Liberation Sans", "fontSize": 18, "baseline": "alphabetic", "align": "center", "color": "#222", "dy": 1},
      "encoding": {
        "x": {"field": "mid", "type": "quantitative"},
        "y": {"field": "top", "type": "quantitative"},
        "text": {"field": "lab", "type": "nominal"}
      }
    }
  ]
}
